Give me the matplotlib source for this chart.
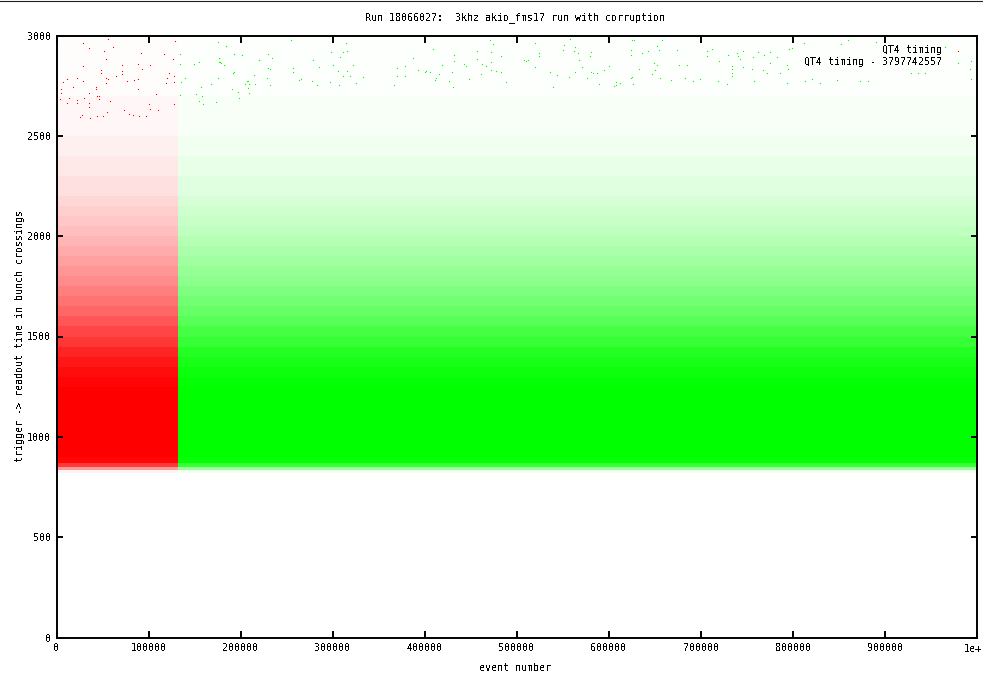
import matplotlib
matplotlib.use("Agg")
import matplotlib.pyplot as plt
from matplotlib.lines import Line2D

title = "Run 18066027:  3khz akio_fms17 run with corruption"
x_label = "event number"
y_label = "trigger -> readout time in bunch crossings"
series_names = ["QT4 timing", "QT4 timing - 3797742557"]
x_ticks = [0, 100000, 200000, 300000, 400000, 500000, 600000, 700000, 800000, 900000, 1000000]
x_tick_labels = ["0", "100000", "200000", "300000", "400000", "500000", "600000", "700000", "800000", "900000", ""]
x_end_label = "1e+"
y_ticks = [0, 500, 1000, 1500, 2000, 2500, 3000]

# The boundary between the two series, in event number
x_range = [0, 1000000]
split_event = 132500

# Estimated share of pixels filled in each timing band (band edges in bunch crossings)
band_edges = [820, 835, 850, 870, 900, 1250, 1300, 1350, 1400, 1450, 1500, 1550, 1600, 1650, 1700,
              1750, 1800, 1850, 1900, 1950, 2000, 2050, 2100, 2150, 2200, 2300, 2400, 2500, 2700, 3000]
band_fill = [0.05, 0.40, 0.78, 0.98, 1.0, 0.98, 0.95, 0.91, 0.86, 0.79, 0.73, 0.66, 0.60, 0.55,
             0.50, 0.45, 0.41, 0.37, 0.33, 0.29, 0.25, 0.22, 0.19, 0.16, 0.12, 0.09, 0.06, 0.03, 0.012]

# Individual sparse points
red_x = [28600, 55700, 35100, 61200, 51400, 91600, 128500, 117300, 53600, 126300, 71000, 88300, 101700, 28600,
         92700, 48100, 48100, 71000, 71000, 64400, 122000, 127400, 119800, 22100, 11200, 6900, 28600, 53600,
         55700, 76400, 84000, 88300, 118700, 127400, 53600, 42700, 4700, 17700, 42700, 88300, 35100, 4700,
         107900, 43800, 46000, 29700, 3600, 13400, 22100, 46000, 57900, 11200, 22100, 35100, 35100, 100300,
         101400, 127400, 54700, 73100, 110000, 78600, 82900, 27500, 25300, 36200, 43800, 50300, 89400, 97000]
red_y = [2961, 2981, 2936, 2941, 2921, 2911, 2971, 2906, 2881, 2881, 2852, 2857, 2852, 2847,
         2832, 2827, 2812, 2822, 2807, 2797, 2812, 2797, 2787, 2787, 2782, 2767, 2772, 2787,
         2782, 2772, 2777, 2782, 2762, 2767, 2762, 2742, 2732, 2742, 2732, 2732, 2712, 2712,
         2707, 2697, 2697, 2687, 2682, 2687, 2677, 2682, 2672, 2662, 2662, 2662, 2642, 2657,
         2632, 2657, 2617, 2627, 2627, 2607, 2602, 2602, 2593, 2588, 2598, 2598, 2598, 2598]
green_x = [175200, 183900, 133900, 192600, 201300, 176300, 176300, 178500, 219700, 133900, 149100, 154600,
           192600, 139400, 175200, 135000, 167600, 207800, 204500, 156700, 190400, 207800, 151300, 196900,
           133900, 157800, 154600, 158900, 173000, 198000, 208900,
           799500, 796200, 812500, 852700, 860300, 890700, 739800, 745600, 762600, 775600, 769100, 783200,
           729300, 743000, 757100, 733600, 775600, 746300, 756100, 768000, 772400, 786500, 794100, 795200,
           734300, 758200, 794100, 813600, 821200, 829600, 848400, 873400, 882000, 993900, 992800, 993900,
           936300, 943900, 928700, 965700,
           254500, 183900, 314200, 192600, 201300, 229500, 233800, 219700, 297900, 311000, 315300, 307700,
           408700, 431500, 431500, 387000, 456500, 456500, 278400, 178100, 181700, 284900, 300100, 321800,
           369600, 378300, 229500, 231700, 256700, 256700, 192600, 191500, 305500, 315300, 392400, 401100,
           400000, 405400, 418500, 442400, 444500, 429300, 214300, 311000, 318600, 332700, 369600, 378300,
           415200, 228400, 411900, 410900, 265300, 263200, 447800, 206700, 277300, 296800, 426100, 208900,
           215400, 325100, 231700, 306600, 366300, 282700, 430400,
           470500, 557400, 519400, 473800, 550900, 562800, 549800, 561800, 566100, 471600, 523700, 523700,
           482500, 580200, 579100, 567200, 507500, 511800, 509600, 471600, 461800, 466200, 519400, 599800,
           570400, 594300, 471600, 477100, 482500, 535700, 562800, 580200, 582400, 586700, 543300, 556300,
           575900, 460800, 625100, 626900, 657300, 651900, 654100, 623700, 642100, 635600, 673600, 623700,
           706200, 711600, 706200, 729000, 740900, 719200, 648600, 651900, 675800, 684500, 733300, 733300,
           733300, 632300, 649700, 646500, 655200, 682300, 624700, 623700, 667100, 698600, 691000, 718100,
           607400, 611700, 487900, 588900, 727900, 607400, 605200, 625800, 539000]
green_y = [2966, 2946, 2906, 2906, 2901, 2887, 2867, 2862, 2877, 2857, 2857, 2867,
           2817, 2787, 2787, 2767, 2757, 2772, 2757, 2742, 2732, 2737, 2707, 2717,
           2702, 2697, 2672, 2657, 2667, 2687, 2712,
           2936, 2931, 2961, 2956, 2976, 2966, 2911, 2921, 2917, 2917, 2901, 2892,
           2901, 2881, 2892, 2847, 2862, 2842, 2832, 2827, 2812, 2812, 2852, 2832,
           2812, 2772, 2762, 2772, 2782, 2762, 2777, 2772, 2772, 2872, 2832, 2782,
           2812, 2812, 2812, 2941,
           2976, 2946, 2961, 2906, 2902, 2906, 2887, 2877, 2917, 2917, 2921, 2892,
           2931, 2902, 2872, 2887, 2921, 2882, 2877, 2867, 2852, 2842, 2852, 2852,
           2837, 2847, 2837, 2832, 2837, 2817, 2817, 2812, 2822, 2822, 2827, 2822,
           2817, 2817, 2852, 2857, 2847, 2817, 2802, 2797, 2797, 2792, 2797, 2797,
           2807, 2787, 2787, 2777, 2782, 2777, 2782, 2772, 2772, 2767, 2772, 2757,
           2757, 2762, 2752, 2752, 2752, 2752, 2742,
           2976, 2981, 2961, 2956, 2951, 2941, 2926, 2921, 2911, 2917, 2911, 2897,
           2897, 2917, 2897, 2877, 2877, 2877, 2872, 2867, 2857, 2847, 2842, 2847,
           2842, 2827, 2827, 2822, 2817, 2817, 2817, 2817, 2812, 2812, 2802, 2792,
           2787, 2807, 2976, 2976, 2976, 2946, 2926, 2926, 2921, 2911, 2926, 2902,
           2921, 2931, 2897, 2902, 2897, 2872, 2862, 2852, 2852, 2852, 2847, 2832,
           2797, 2832, 2827, 2807, 2787, 2787, 2792, 2787, 2777, 2782, 2772, 2772,
           2767, 2762, 2767, 2757, 2757, 2752, 2747, 2757, 2742]

plt.rcParams["font.family"] = "DejaVu Sans Mono"
plt.rcParams["font.size"] = 7.2
plt.rcParams["text.antialiased"] = False

fig = plt.figure(figsize=(9.83, 6.76), dpi=100)
ax = fig.add_axes([56.5 / 983, 1 - 637.5 / 676, 920.5 / 983, 602 / 676])

red, green = "#ff0000", "#00ff00"
for lo, hi, share in zip(band_edges[:-1], band_edges[1:], band_fill):
    ax.fill_between([x_range[0], split_event], lo, hi, color=red, alpha=share, lw=0)
    ax.fill_between([split_event, x_range[1]], lo, hi, color=green, alpha=share, lw=0)

point_style = dict(ls="", marker="s", ms=0.8, mew=0, antialiased=False)
ax.plot(red_x, red_y, color=red, **point_style)
ax.plot(green_x, green_y, color=green, **point_style)

ax.set_xlim(*x_range)
ax.set_ylim(0, 3000)
ax.set_xticks(x_ticks, x_tick_labels)
ax.set_yticks(y_ticks)
ax.tick_params(axis="x", direction="in", length=5, width=1.4, top=True, pad=4)
ax.tick_params(axis="y", direction="in", length=4, width=1.4, right=True, pad=4)
for s in ax.spines.values():
    s.set_linewidth(1.4)

ax.annotate(x_end_label, (x_range[1], 0), xytext=(-3, -8), textcoords="offset points",
            ha="center", va="center", annotation_clip=False)
fig.text(515 / 983, 1 - 18 / 676, title, ha="center", va="center")
fig.text(515 / 983, 1 - 668 / 676, x_label, ha="center", va="center")
fig.text(20 / 983, 1 - 336 / 676, y_label, ha="center", va="center", rotation=90)

# Legend entries, as in the original key: right-aligned text and a single-pixel sample
fig.text(941.5 / 983, 1 - 50 / 676, series_names[0], ha="right", va="center")
fig.text(941.5 / 983, 1 - 62 / 676, series_names[1], ha="right", va="center")
fig.add_artist(Line2D([957.5 / 983], [1 - 50.5 / 676], color=red, **point_style))
fig.add_artist(Line2D([957.5 / 983], [1 - 62.5 / 676], color=green, **point_style))
fig.add_artist(Line2D([0, 1], [1 - 0.5 / 676] * 2, color="#222222", lw=0.8))

fig.savefig("out.png", dpi=100)
